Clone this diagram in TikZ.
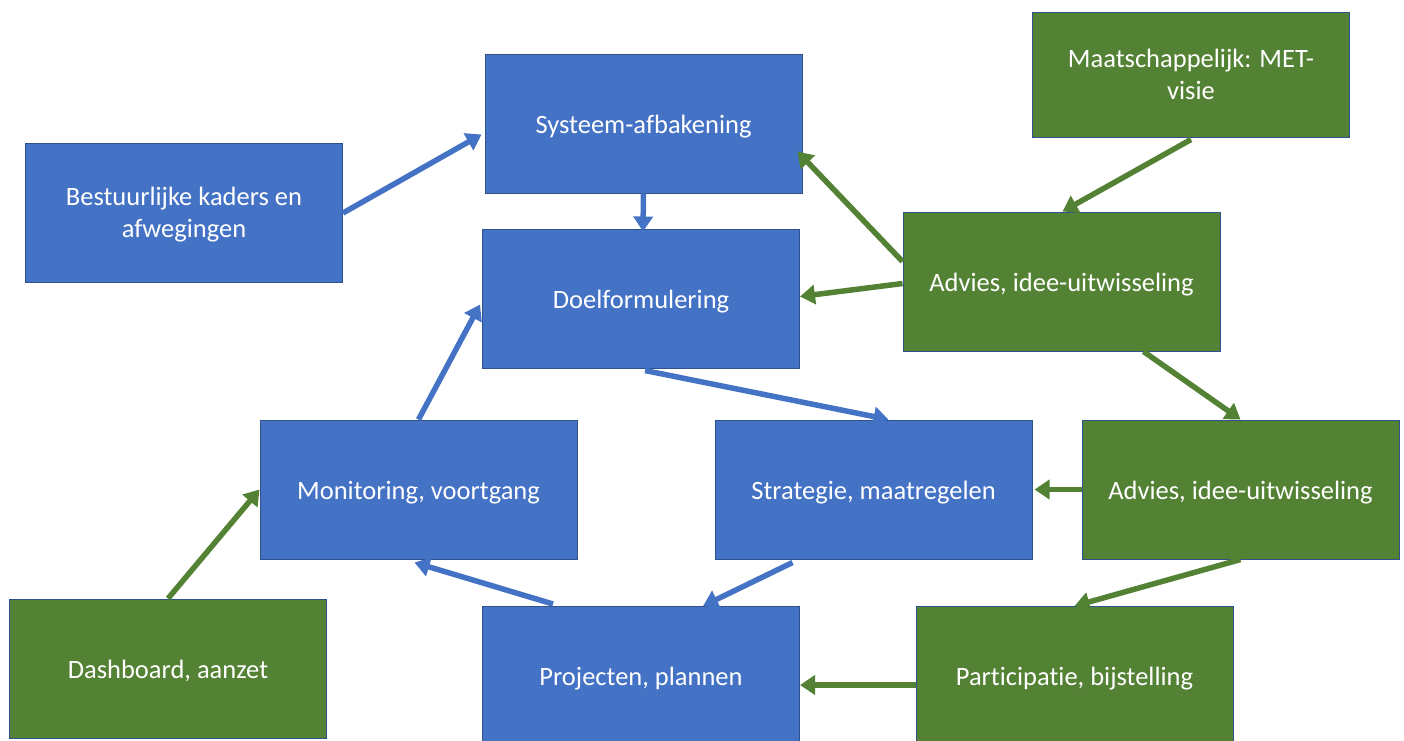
\documentclass[tikz,border=0pt]{standalone}
\usepackage{fontspec}
\setmainfont[Ligatures=NoCommon]{Carlito}
\usetikzlibrary{arrows.meta,calc}
\definecolor{bbox}{HTML}{4472C4}
\definecolor{gbox}{HTML}{548235}
\definecolor{edge}{HTML}{2F528F}
\tikzset{
  box/.style={draw=edge,line width=1pt,minimum width=317pt,minimum height=139pt,inner sep=0pt,align=center,text=white,text height=26pt,text depth=7pt,font=\fontsize{26.5}{32}\selectfont},
  twolines/.style={text height=56pt,text depth=7pt},
  bluebox/.style={box,fill=bbox},
  greenbox/.style={box,fill=gbox},
  conn/.style={line width=5.5pt,-{Triangle[length=15pt,width=19pt]}},
  barrow/.style={conn,draw=bbox},
  garrow/.style={conn,draw=gbox},
}
\begin{document}
\begin{tikzpicture}[x=1pt,y=-1pt]
\useasboundingbox (0,0) rectangle (1404,740);
\clip (0,0) rectangle (1404,740);
\node[bluebox] (sys) at (643.5,123.5) {Systeem-afbakening};
\node[bluebox,twolines] (bk) at (184,213) {Bestuurlijke kaders en\\afwegingen};
\node[bluebox] (doel) at (641,298.5) {Doelformulering};
\node[greenbox,twolines,minimum height=125pt] (maat) at (1191,74.5) {Maatschappelijk: MET-\\visie};
\node[greenbox] (ad1) at (1061.5,281.5) {Advies, idee-uitwisseling};
\node[bluebox] (mon) at (418.5,489.5) {Monitoring, voortgang};
\node[bluebox] (strat) at (873.5,489.5) {Strategie, maatregelen};
\node[greenbox] (ad2) at (1240.5,489.5) {Advies, idee-uitwisseling};
\node[greenbox] (dash) at (168,668.5) {Dashboard, aanzet};
\node[bluebox] (proj) at (641,676) {Projecten, plannen};
\node[greenbox] (part) at (1074.5,676) {Participatie, bijstelling};

\draw[barrow] (bk.east) -- ($(sys.west)+(-3,11)$);
\draw[barrow] (sys.south) -- ($(doel.north)+(2,3)$);
\draw[garrow] ($(ad1.west)+(0,-20)$) -- ($(sys.east)+(-5,28)$);
\draw[garrow] ($(ad1.west)+(0,2)$) -- ($(doel.east)+(0,-2)$);
\draw[garrow] ($(maat.south)+(0,2)$) -- ($(ad1.north)+(1,0)$);
\draw[garrow] ($(ad1.south)+(82,0)$) -- (ad2.north);
\draw[barrow] ($(doel.south)+(4,2)$) -- ($(strat.north)+(15,0)$);
\draw[garrow] (ad2.west) -- ($(strat.east)+(2,0)$);
\draw[garrow] (ad2.south) -- (part.north);
\draw[barrow] ($(strat.south)+(-81,3)$) -- ($(proj.north)+(62,0)$);
\draw[barrow] ($(proj.north)+(-88,-2)$) -- ($(mon.south)+(-4,3)$);
\draw[garrow] ($(part.west)+(0,9)$) -- ($(proj.east)+(0,9)$);
\draw[barrow] (mon.north) -- ($(doel.west)+(-2,6)$);
\draw[garrow] (dash.north) -- (mon.west);
\end{tikzpicture}
\end{document}
